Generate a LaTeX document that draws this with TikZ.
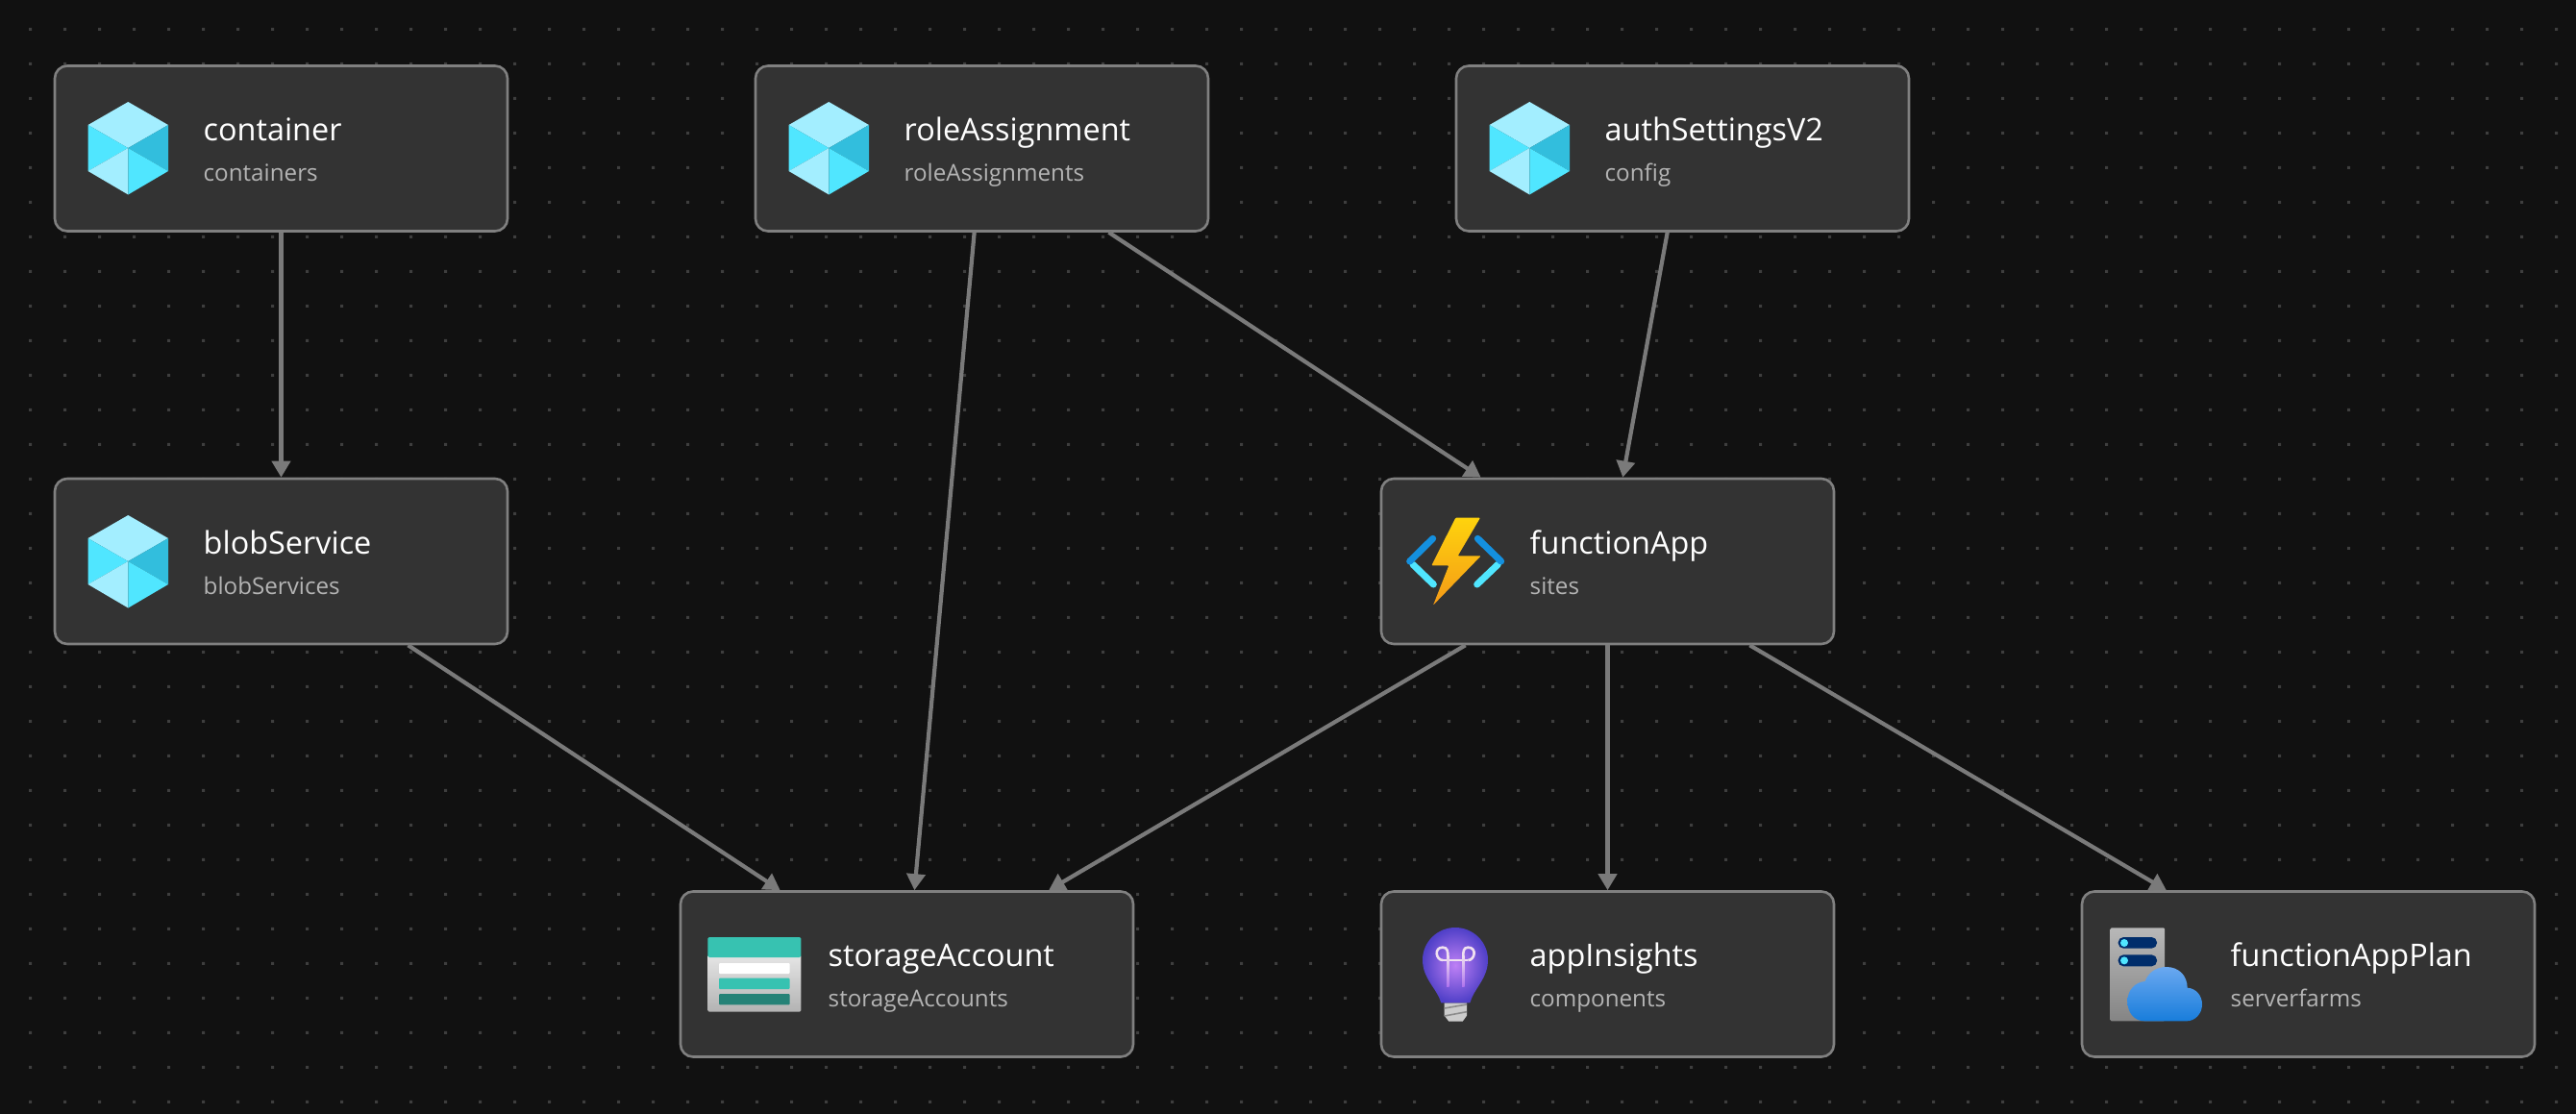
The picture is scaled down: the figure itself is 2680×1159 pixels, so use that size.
\documentclass[tikz,border=0pt]{standalone}
\usepackage{fontspec}
\setmainfont{Open Sans}
\usetikzlibrary{arrows.meta,calc}
\definecolor{bgcol}{HTML}{111111}
\definecolor{dotcol}{HTML}{3E3E3E}
\definecolor{boxfill}{HTML}{333333}
\definecolor{boxline}{HTML}{808080}
\definecolor{linkcol}{HTML}{7A7A7A}
\definecolor{subcol}{HTML}{B4B4B4}
\definecolor{cubeA}{HTML}{A3EEFF}
\definecolor{cubeB}{HTML}{50E6FF}
\definecolor{cubeC}{HTML}{32BEDD}
\definecolor{boltA}{HTML}{FED30D}
\definecolor{boltB}{HTML}{F59A17}
\tikzset{
  resbox/.style={draw=boxline,fill=boxfill,line width=2.6pt,rounded corners=13pt,minimum width=471pt,minimum height=172pt,inner sep=0pt},
  titletext/.style={anchor=base west,inner sep=0pt,text=white,font=\fontsize{32.4}{36}\selectfont},
  subtext/.style={anchor=base west,inner sep=0pt,text=subcol,font=\fontsize{24.2}{30}\selectfont},
  link/.style={draw=linkcol,line width=4.2pt,-{Triangle[length=17pt,width=19pt]}},
  zoomed/.style={x=0.33333pt,y=-0.33333pt},
  cubeicon/.pic={
    \fill[cubeA] (0,-48) -- (41.7,-24) -- (0,0) -- (-41.7,-24) -- cycle;
    \fill[cubeB] (-41.7,-24) -- (0,0) -- (-41.7,24) -- cycle;
    \fill[cubeC] (41.7,-24) -- (41.7,24) -- (0,0) -- cycle;
    \fill[cubeA] (-41.7,24) -- (0,0) -- (0,48.5) -- cycle;
    \fill[cubeB] (0,0) -- (41.7,24) -- (0,48.5) -- cycle;
  }
}
\newcommand{\resnode}[6]{%
  \node[resbox] (#1) at (#2,#3) {};
  \node[titletext] (#1-title) at ($(#2,#3)+(#6,-8)$) {#4};
  \node[subtext] (#1-sub) at ($(#2,#3)+(#6,34)$) {#5};
}
\begin{document}
\begin{tikzpicture}[x=1pt,y=-1pt]
\useasboundingbox (0,0) rectangle (2680,1159);
\fill[bgcol] (0,0) rectangle (2680,1159);
\fill[dotcol] \foreach \i in {0,...,73} { \foreach \j in {0,...,31} {
  ({31.5+36*\i-1.5},{30.3+36*\j-1.5}) rectangle ++(3,3) } };

\resnode{container}{292.5}{154.5}{container}{containers}{-81}
\resnode{role}{1021.5}{154.5}{roleAssignment}{roleAssignments}{-81}
\resnode{auth}{1750.5}{154.5}{authSettingsV2}{config}{-81}
\resnode{blob}{292.5}{584}{blobService}{blobServices}{-81}
\resnode{func}{1672.5}{584}{functionApp}{sites}{-81}
\resnode{storage}{943.5}{1013.5}{storageAccount}{storageAccounts}{-82}
\resnode{insights}{1672.5}{1013.5}{appInsights}{components}{-81}
\resnode{plan}{2401.5}{1013.5}{functionAppPlan}{serverfarms}{-81}

\draw[link] (container) -- (blob);
\draw[link] (role) -- (storage);
\draw[link] (role) -- (func);
\draw[link] (auth) -- (func);
\draw[link] (blob) -- (storage);
\draw[link] (func) -- (storage);
\draw[link] (func) -- (insights);
\draw[link] (func) -- (plan);

\pic at (133.3,154) {cubeicon};
\pic at (862.3,154) {cubeicon};
\pic at (1591.3,154) {cubeicon};
\pic at (133.3,584) {cubeicon};

% function app icon
\begin{scope}[shift={(1420,480)},zoomed]
  \shade[top color=boltA,bottom color=boltB,rounded corners=1pt]
    (283,176) -- (360,176) -- (290,295) -- (362,295) -- (213,449) -- (262,325) -- (208,325) -- cycle;
  \draw[line width=7pt,line cap=round,draw={rgb,255:red,80;green,230;blue,255}] (150,322) -- (214,384);
  \draw[line width=7pt,line cap=round,draw={rgb,255:red,80;green,230;blue,255}] (415,322) -- (350,384);
  \draw[line width=7pt,line cap=round,line join=round,draw={rgb,255:red,20;green,144;blue,223}] (212,241) -- (140,312);
  \draw[line width=7pt,line cap=round,line join=round,draw={rgb,255:red,20;green,144;blue,223}] (352,241) -- (425,312);
\end{scope}

% storage icon
\begin{scope}[shift={(700,900)},zoomed]
  \shade[top color=white!90!black,bottom color=black!30!white,rounded corners=1.5pt] (109,280) rectangle (400,458);
  \fill[rounded corners=1.5pt,fill={rgb,255:red,55;green,194;blue,177}] (109,288) rectangle (400,225);
  \fill[white,rounded corners=1pt] (144,306) rectangle (365,339);
  \fill[rounded corners=1pt,fill={rgb,255:red,55;green,194;blue,177}] (144,353) rectangle (365,387);
  \fill[rounded corners=1pt,fill={rgb,255:red,37;green,130;blue,119}] (144,402) rectangle (365,436);
\end{scope}

% app insights icon
\begin{scope}[shift={(1420,900)},zoomed]
  \fill[black!20!white] (248,430) -- (318,430) -- (318,470) -- (305,488) -- (262,488) -- (248,470) -- cycle;
  \draw[line width=1.6pt,black!45!white] (248,447) -- (318,435) (248,471) -- (318,458);
  \shade[inner color={rgb,255:red,190;green,128;blue,245},outer color={rgb,255:red,80;green,64;blue,200}]
    (238,430) .. controls (225,385) and (180,355) .. (180,296)
    .. controls (180,240) and (226,195) .. (282,195)
    .. controls (338,195) and (384,240) .. (384,296)
    .. controls (384,355) and (340,385) .. (328,430) -- cycle;
  \draw[line width=2.6pt,white!88!violet] (243,297) -- (322,297);
  \draw[line width=2.6pt,white!88!violet] (243,297) .. controls (222,297) and (214,257) .. (243,257) .. controls (258,257) and (259,270) .. (259,285);
  \draw[line width=2.6pt,white!88!violet] (322,297) .. controls (343,297) and (351,257) .. (322,257) .. controls (307,257) and (307,270) .. (307,285);
  \shade[top color=white!88!violet,bottom color={rgb,255:red,176;green,116;blue,238}] (255,283) rectangle (263,378);
  \shade[top color=white!88!violet,bottom color={rgb,255:red,176;green,116;blue,238}] (303,283) rectangle (311,378);
\end{scope}

% plan icon
\begin{scope}[shift={(2160,900)},zoomed]
  \shade[top color=black!28!white,bottom color=black!48!white,rounded corners=1pt] (107,196) rectangle (276,487);
  \fill[rounded corners=5.5pt,fill={rgb,255:red,0;green,45;blue,107}] (131,225) rectangle (252,260);
  \fill[rounded corners=5.5pt,fill={rgb,255:red,0;green,45;blue,107}] (131,280) rectangle (252,316);
  \fill[fill={rgb,255:red,80;green,230;blue,255}] (150,243) circle[radius=12];
  \fill[fill={rgb,255:red,80;green,230;blue,255}] (150,298) circle[radius=12];
  \shade[top color={rgb,255:red,106;green,168;blue,240},bottom color={rgb,255:red,24;green,125;blue,219}]
    (215,487) .. controls (180,487) and (160,460) .. (160,425)
    .. controls (160,390) and (185,365) .. (215,363)
    .. controls (225,335) and (250,318) .. (282,318)
    .. controls (320,318) and (347,345) .. (347,383)
    .. controls (375,385) and (393,408) .. (393,435)
    .. controls (393,465) and (370,487) .. (345,487) -- cycle;
\end{scope}
\end{tikzpicture}
\end{document}
